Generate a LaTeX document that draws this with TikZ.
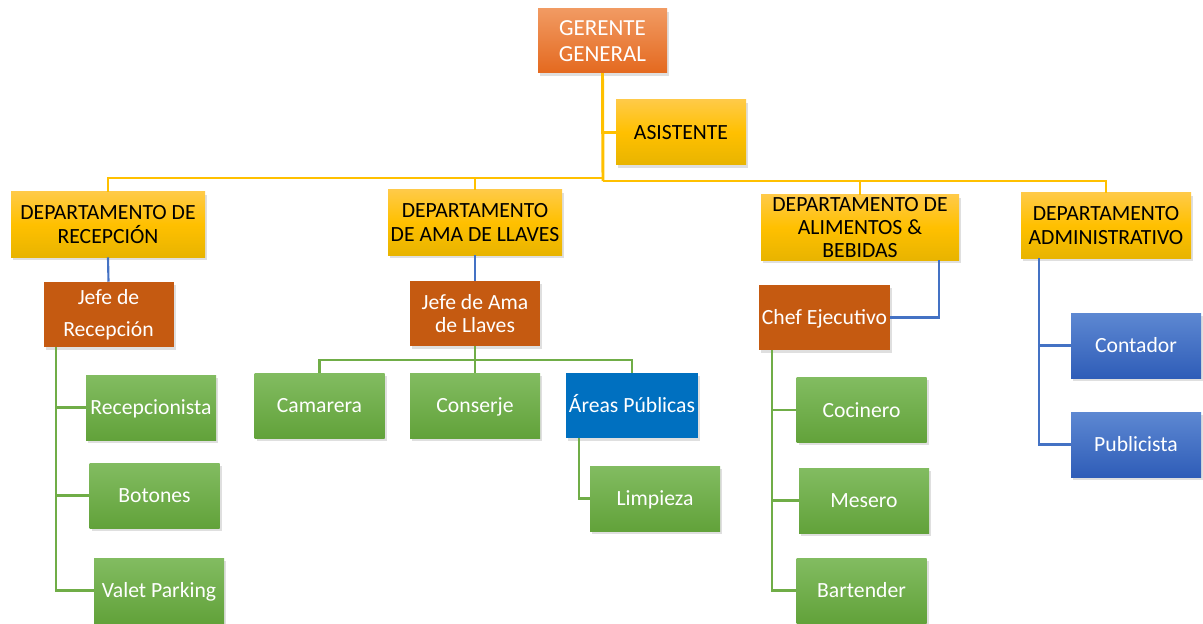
\documentclass[tikz,border=0pt]{standalone}
\usepackage{fontspec}
\setmainfont{Carlito}
\usepackage{tikz}
\usetikzlibrary{calc,shadows}

\definecolor{GerTop}{HTML}{F19A62}
\definecolor{GerBot}{HTML}{E4691F}
\definecolor{DeptTop}{HTML}{FFCA47}
\definecolor{DeptMid}{HTML}{FFC000}
\definecolor{DeptBot}{HTML}{E8B400}
\definecolor{JefeFill}{HTML}{C55A11}
\definecolor{StaffTop}{HTML}{82BC61}
\definecolor{StaffBot}{HTML}{62A23A}
\definecolor{AdmTop}{HTML}{5D88D2}
\definecolor{AdmBot}{HTML}{2F5DB8}
\definecolor{AreaFill}{HTML}{0070C0}
\definecolor{LinkYellow}{HTML}{FFC000}
\definecolor{LinkBlue}{HTML}{4472C4}
\definecolor{LinkGreen}{HTML}{70AD47}

\tikzset{
  box/.style={rectangle, minimum width=97.5pt, minimum height=48.75pt, align=center,
    inner sep=2pt, text=white, font=\fontsize{16.25}{17.75}\selectfont,
    drop shadow={shadow xshift=1.5pt, shadow yshift=-2pt, opacity=0.25}},
  oneline/.style={text height=12.75pt, text depth=1.75pt},
  gerbox/.style={box, minimum width=96.75pt, minimum height=48pt, top color=GerTop, bottom color=GerBot,
    font=\fontsize{17.25}{19.5}\selectfont},
  deptbox/.style={box, top color=DeptTop, bottom color=DeptBot, middle color=DeptMid, text=black},
  jefebox/.style={box, fill=JefeFill},
  staffbox/.style={box, oneline, top color=StaffTop, bottom color=StaffBot},
  admbox/.style={box, oneline, top color=AdmTop, bottom color=AdmBot},
  areabox/.style={box, oneline, fill=AreaFill},
  ylink/.style={draw=LinkYellow, line width=2.2pt},
  blink/.style={draw=LinkBlue, line width=1.6pt},
  glink/.style={draw=LinkGreen, line width=1.6pt}
}

\begin{document}
\begin{tikzpicture}[x=0.75pt, y=-0.75pt]
  \useasboundingbox (0,0) rectangle (1203,624);

  % Top
  \node[gerbox] (ger) at (602.5,41) {GERENTE\\GENERAL};
  \node[deptbox, oneline] (asist) at (681,132.5) {ASISTENTE};

  % Departments
  \node[deptbox, minimum width=145.5pt] (dRecep) at (108,224.5) {DEPARTAMENTO DE\\RECEPCIÓN};
  \node[deptbox, minimum width=130.5pt] (dAma) at (475,222.5) {DEPARTAMENTO\\DE AMA DE LLAVES};
  \node[deptbox, minimum width=148.5pt, inner ysep=0pt, font=\fontsize{16.25}{17.25}\selectfont] (dAyB) at (860,227.5) {DEPARTAMENTO DE\\ALIMENTOS \&\\BEBIDAS};
  \node[deptbox, minimum width=127.5pt] (dAdmin) at (1106,225.5) {DEPARTAMENTO\\ADMINISTRATIVO};

  % Jefes
  \node[jefebox, font=\fontsize{16.25}{24}\selectfont] (jRecep) at (108.5,314.5) {Jefe de\\Recepción};
  \node[jefebox] (jAma) at (475,313.5) {Jefe de Ama\\de Llaves};
  \node[jefebox, oneline] (chef) at (824.5,317.5) {Chef Ejecutivo};

  % Recepcion staff
  \node[staffbox] (recep) at (151,407.5) {Recepcionista};
  \node[staffbox] (boton) at (154.5,495.5) {Botones};
  \node[staffbox] (valet) at (159,590.5) {Valet Parking};

  % Ama de llaves staff
  \node[staffbox] (cama) at (319.5,405.5) {Camarera};
  \node[staffbox] (conser) at (475,405.5) {Conserje};
  \node[areabox] (areas) at (632,405.5) {Áreas Públicas};
  \node[staffbox] (limp) at (655,498.5) {Limpieza};

  % Alimentos staff
  \node[staffbox] (coci) at (861.5,410) {Cocinero};
  \node[staffbox] (mese) at (864,500.5) {Mesero};
  \node[staffbox] (bart) at (861.5,590.5) {Bartender};

  % Administracion staff
  \node[admbox] (conta) at (1136,345.5) {Contador};
  \node[admbox] (publi) at (1136,444.5) {Publicista};

  % Yellow links
  \coordinate (hubL) at (603,178);
  \coordinate (hubR) at (603,181);
  \draw[ylink] (ger.south) |- (asist.west);
  \draw[ylink] (ger.south) -- (hubR);
  \draw[ylink] (hubL) -| (dRecep.north);
  \draw[ylink] (hubL) -| (dAma.north);
  \draw[ylink] (hubR) -| (dAyB.north);
  \draw[ylink] (hubR) -| (dAdmin.north);

  % Blue links
  \draw[blink] (dRecep.south) -- (jRecep.north);
  \draw[blink] (dAma.south) -- (jAma.north);
  \draw[blink] ([xshift=-15pt]dAyB.south east) |- (chef.east);
  \draw[blink] ([xshift=13.5pt]dAdmin.south west) |- (conta.west);
  \draw[blink] ([xshift=13.5pt]dAdmin.south west) |- (publi.west);

  % Green links
  \foreach \s in {recep,boton,valet}
    \draw[glink] ([xshift=9.75pt]jRecep.south west) |- (\s.west);
  \coordinate (hubAma) at (475,360);
  \draw[glink] (jAma.south) -- (conser.north);
  \draw[glink] (hubAma) -| (cama.north);
  \draw[glink] (hubAma) -| (areas.north);
  \draw[glink] ([xshift=9.75pt]areas.south west) |- (limp.west);
  \foreach \s in {coci,mese,bart}
    \draw[glink] ([xshift=9.75pt]chef.south west) |- (\s.west);
\end{tikzpicture}
\end{document}
